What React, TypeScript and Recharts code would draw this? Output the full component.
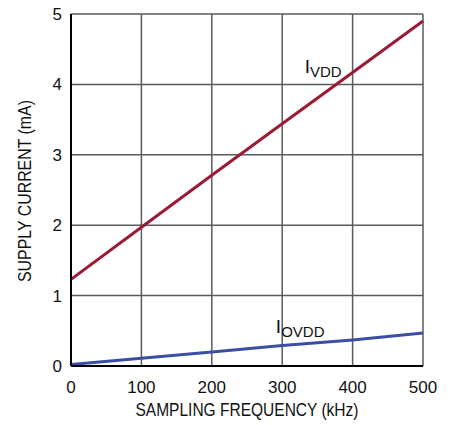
import React from 'react';
import {
  LineChart,
  Line,
  XAxis,
  YAxis,
  CartesianGrid,
  ReferenceDot,
} from 'recharts';

const frequency = [0, 100, 200, 300, 400, 500];
const ivdd = [1.23, 1.97, 2.71, 3.44, 4.17, 4.9];
const iovdd = [0.02, 0.11, 0.2, 0.29, 0.37, 0.47];
const xTicks = [0, 100, 200, 300, 400, 500];
const yTicks = [0, 1, 2, 3, 4, 5];

const data = frequency.map((f, i) => ({ f, ivdd: ivdd[i], iovdd: iovdd[i] }));

const FONT = '"Liberation Sans Narrow", "Liberation Sans", Arial, sans-serif';

function currentLabel(sub: string) {
  return (props: any) => {
    const { viewBox } = props;
    return (
      <text x={viewBox.x} y={viewBox.y} fontFamily={FONT} fill="#111">
        <tspan fontSize={19}>I</tspan>
        <tspan fontSize={15} dy={4}>
          {sub}
        </tspan>
      </text>
    );
  };
}

export default function App() {
  return (
    <div style={{ marginTop: -8, marginLeft: -8, width: 451, height: 425, background: '#fff' }}>
      <LineChart
        width={451}
        height={425}
        data={data}
        margin={{ top: 14, right: 28, bottom: 0, left: 21 }}
      >
        <CartesianGrid stroke="#5a5a5a" strokeWidth={1.5} />
        <XAxis
          dataKey="f"
          type="number"
          domain={[0, 500]}
          ticks={xTicks}
          height={59}
          axisLine={{ stroke: '#000', strokeWidth: 2 }}
          tickLine={false}
          tick={{ fill: '#111', fontSize: 17, fontFamily: FONT }}
          tickMargin={9}
          label={(props: any) => (
            <text
              x={props.viewBox.x + props.viewBox.width / 2}
              y={416}
              textAnchor="middle"
              fontFamily={FONT}
              fontSize={18}
              textLength={223}
              lengthAdjust="spacingAndGlyphs"
              fill="#111"
            >
              SAMPLING FREQUENCY (kHz)
            </text>
          )}
        />
        <XAxis
          xAxisId="top"
          orientation="top"
          dataKey="f"
          type="number"
          domain={[0, 500]}
          height={0}
          tick={false}
          tickLine={false}
          axisLine={{ stroke: '#000', strokeWidth: 2 }}
        />
        <YAxis
          type="number"
          domain={[0, 5]}
          ticks={yTicks}
          width={50}
          axisLine={{ stroke: '#000', strokeWidth: 2 }}
          tickLine={false}
          tick={{ fill: '#111', fontSize: 17, fontFamily: FONT }}
          tickMargin={3}
          label={() => {
            const cy = 191;
            return (
              <text
                x={31}
                y={cy}
                transform={`rotate(-90 31 ${cy})`}
                textAnchor="middle"
                fontFamily={FONT}
                fontSize={18}
                textLength={182}
                lengthAdjust="spacingAndGlyphs"
                fill="#111"
              >
                SUPPLY CURRENT (mA)
              </text>
            );
          }}
        />
        <YAxis
          yAxisId="right"
          orientation="right"
          type="number"
          domain={[0, 5]}
          width={0}
          tick={false}
          tickLine={false}
          axisLine={{ stroke: '#000', strokeWidth: 2 }}
        />
        <Line
          dataKey="ivdd"
          type="linear"
          stroke="#9b1b35"
          strokeWidth={3}
          dot={false}
          isAnimationActive={false}
        />
        <Line
          dataKey="iovdd"
          type="linear"
          stroke="#3a4fa3"
          strokeWidth={3}
          dot={false}
          isAnimationActive={false}
        />
        <ReferenceDot
          x={332}
          y={4.16}
          r={0}
          fill="none"
          stroke="none"
          label={currentLabel('VDD')}
        />
        <ReferenceDot
          x={291}
          y={0.47}
          r={0}
          fill="none"
          stroke="none"
          label={currentLabel('OVDD')}
        />
      </LineChart>
    </div>
  );
}
